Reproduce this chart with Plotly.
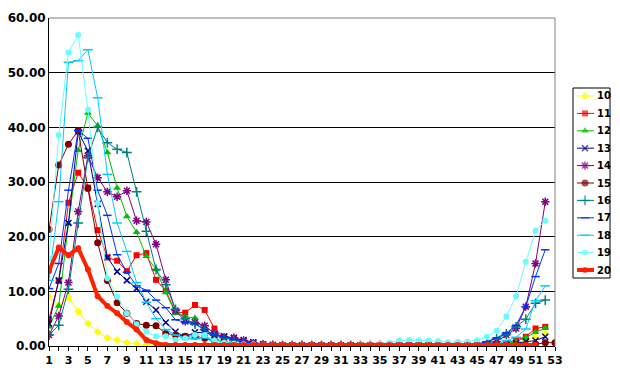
import plotly.graph_objects as go

weeks = list(range(1, 54))
tick_text = [str(w) if w % 2 == 1 else "" for w in weeks]

s10 = [9.0, 7.5, 8.9, 6.3, 4.1, 2.6, 1.5, 1.1, 0.6, 0.4,
       0.2, 0.1, 0.1, 0.1, 0.1, 0.1, 0.1, 0.0, 0.0, 0.0,
       0.0, 0.0, 0.0, 0.0, 0.0, 0.0, 0.0, 0.0, 0.0, 0.0,
       0.0, 0.0, 0.0, 0.0, 0.0, 0.0, 0.0, 0.0, 0.0, 0.0,
       0.0, 0.0, 0.0, 0.0, 0.1, 0.1, 0.2, 0.3, 0.6, 1.0,
       1.6, 2.3]
s11 = [4.9, 11.9, 26.2, 31.7, 29.0, 21.2, 16.2, 15.6, 13.7, 16.6,
       17.0, 12.1, 10.1, 6.2, 6.1, 7.5, 6.6, 3.2, 1.6, 1.4,
       0.9, 0.5, 0.3, 0.2, 0.1, 0.1, 0.1, 0.1, 0.1, 0.1,
       0.1, 0.1, 0.1, 0.1, 0.1, 0.1, 0.1, 0.1, 0.1, 0.1,
       0.1, 0.1, 0.1, 0.1, 0.1, 0.1, 0.2, 0.5, 1.1, 1.7,
       3.2, 3.5]
s12 = [3.5, 7.3, 22.4, 35.8, 42.6, 40.3, 35.4, 28.9, 23.7, 20.8,
       16.4, 14.0, 9.8, 6.0, 5.4, 5.1, 3.0, 1.4, 0.8, 0.5,
       0.3, 0.2, 0.1, 0.1, 0.1, 0.1, 0.1, 0.1, 0.1, 0.1,
       0.1, 0.1, 0.1, 0.1, 0.1, 0.1, 0.1, 0.1, 0.1, 0.1,
       0.1, 0.1, 0.1, 0.1, 0.1, 0.1, 0.2, 0.4, 0.8, 1.6,
       2.5, 3.3]
s13 = [4.1, 12.0, 22.5, 39.2, 35.7, 26.0, 16.2, 13.6, 12.0, 10.5,
       8.1, 6.6, 4.3, 2.6, 1.7, 2.5, 2.4, 2.0, 1.8, 1.5,
       1.1, 0.7, 0.3, 0.2, 0.1, 0.1, 0.1, 0.1, 0.1, 0.1,
       0.1, 0.1, 0.1, 0.1, 0.1, 0.1, 0.1, 0.1, 0.1, 0.1,
       0.1, 0.1, 0.1, 0.1, 0.1, 0.1, 0.1, 0.3, 0.5, 0.8,
       1.0, 1.7]
s14 = [2.0, 5.5, 11.6, 24.6, 34.8, 30.8, 28.2, 27.3, 28.4, 22.9,
       22.7, 18.6, 12.1, 6.5, 4.5, 4.3, 3.7, 2.3, 1.6, 1.5,
       1.0, 0.5, 0.3, 0.2, 0.1, 0.1, 0.1, 0.1, 0.1, 0.1,
       0.1, 0.1, 0.1, 0.1, 0.1, 0.1, 0.1, 0.1, 0.1, 0.1,
       0.1, 0.1, 0.1, 0.1, 0.1, 0.3, 0.8, 2.0, 3.2, 7.2,
       15.1, 26.4]
s15 = [21.3, 33.1, 36.9, 39.4, 28.8, 18.9, 12.0, 7.9, 6.0, 4.1,
       3.8, 3.7, 2.3, 2.0, 1.8, 1.8, 1.4, 1.0, 0.6, 0.4,
       0.2, 0.1, 0.1, 0.1, 0.1, 0.1, 0.1, 0.1, 0.1, 0.1,
       0.1, 0.1, 0.1, 0.1, 0.1, 0.1, 0.1, 0.1, 0.1, 0.1,
       0.1, 0.1, 0.1, 0.1, 0.1, 0.1, 0.1, 0.1, 0.2, 0.2,
       0.3, 0.6, 0.6]
s16 = [2.0, 3.8, 10.4, 22.5, 34.5, 40.0, 37.2, 36.0, 35.4, 28.2,
       21.0, 14.0, 11.2, 6.7, 5.0, 4.0, 3.0, 2.0, 1.5, 1.0,
       0.6, 0.3, 0.2, 0.1, 0.1, 0.1, 0.1, 0.1, 0.1, 0.1,
       0.1, 0.1, 0.1, 0.1, 0.1, 0.1, 0.1, 0.1, 0.1, 0.1,
       0.1, 0.1, 0.2, 0.2, 0.3, 0.8, 1.3, 2.2, 3.5, 4.9,
       7.8, 8.4]
s17 = [10.5, 15.1, 28.5, 39.4, 38.0, 28.5, 23.9, 16.7, 13.5, 11.0,
       10.2, 8.4, 7.0, 4.8, 4.3, 4.1, 3.0, 2.0, 1.6, 1.2,
       0.8, 0.5, 0.3, 0.2, 0.1, 0.1, 0.1, 0.1, 0.1, 0.1,
       0.1, 0.1, 0.1, 0.1, 0.1, 0.1, 0.1, 0.1, 0.1, 0.1,
       0.1, 0.1, 0.1, 0.2, 0.3, 0.8, 1.5, 2.4, 3.8, 7.2,
       12.7, 17.6]
s18 = [12.0, 26.4, 51.9, 52.2, 54.2, 45.4, 31.4, 22.5, 17.3, 11.6,
       8.0, 5.0, 3.0, 2.0, 1.5, 1.3, 1.5, 1.0, 0.6, 0.4,
       0.2, 0.1, 0.1, 0.1, 0.1, 0.1, 0.1, 0.1, 0.1, 0.1,
       0.1, 0.1, 0.1, 0.1, 0.1, 0.1, 0.1, 0.1, 0.1, 0.1,
       0.1, 0.1, 0.1, 0.1, 0.1, 0.2, 0.3, 1.0, 1.6, 3.1,
       8.3, 11.0]
s19 = [16.0, 38.6, 53.7, 56.9, 43.2, 26.1, 12.4, 9.0, 6.0, 4.0,
       2.6, 1.8, 1.8, 1.1, 1.4, 2.0, 2.0, 1.0, 0.6, 0.4,
       0.3, 0.3, 0.2, 0.2, 0.2, 0.2, 0.2, 0.2, 0.2, 0.2,
       0.2, 0.2, 0.3, 0.3, 0.4, 0.6, 1.0, 1.1, 1.0, 1.0,
       0.9, 0.7, 0.8, 0.8, 1.0, 1.7, 2.8, 5.4, 9.1, 15.4,
       21.1, 22.9]
s20 = [13.7, 18.0, 16.6, 17.9, 14.0, 9.1, 7.3, 6.0, 4.4, 3.0,
       1.1, 0.5, 0.2, 0.2, 0.2, 0.2, 0.2, 0.2, 0.2, 0.2,
       0.2, 0.2, 0.2, 0.2, 0.2, 0.2, 0.2, 0.2, 0.2, 0.2,
       0.2, 0.2, 0.2, 0.2, 0.2, 0.2, 0.2, 0.2, 0.2, 0.2,
       0.2, 0.2, 0.2, 0.2, 0.2, 0.2, 0.2, 0.2, 0.2, 0.2,
       0.2]

series_names = ["10", "11", "12", "13", "14", "15", "16", "17", "18", "19", "20"]
series_values = [s10, s11, s12, s13, s14, s15, s16, s17, s18, s19, s20]

styles = [
    dict(color="#FFFF00", symbol="diamond", size=6, width=1),
    dict(color="#FF0000", symbol="square", size=6, width=1),
    dict(color="#00C000", symbol="triangle-up", size=7, width=1),
    dict(color="#000099", symbol="x-thin", size=6, width=1),
    dict(color="#800080", symbol="asterisk", size=7, width=1),
    dict(color="#800000", symbol="circle", size=7, width=1),
    dict(color="#008080", symbol="cross-thin", size=7, width=1),
    dict(color="#0033FF", symbol="line-ew", size=6, width=1),
    dict(color="#00CCFF", symbol="line-ew", size=7, width=1),
    dict(color="#66FFFF", symbol="circle", size=6, width=1),
    dict(color="#FF2000", symbol="circle", size=6, width=4),
]

# The page body has an 8px default margin: size the figure to fit the window.
PAGE = 8
W, H = 620 - PAGE, 384 - PAGE
# Layout positions measured in window pixels, converted to figure pixels.
plot_l, plot_r, plot_t, plot_b = 49 - PAGE, 555 - PAGE, 18 - PAGE, 346 - PAGE
leg_l, leg_r, leg_t, leg_b = 573 - PAGE, 610 - PAGE, 88 - PAGE, 278 - PAGE
leg_row0, leg_step = 96 - PAGE, 17.4
sw_x0, sw_xm, sw_x1, txt_x = 577 - PAGE, 585 - PAGE, 594 - PAGE, 595 - PAGE

ML, MR, MT, MB = plot_l, 2, plot_t, H - plot_b
gw = W - ML - MR
gh = H - MT - MB

def fx(px):
    return (px - ML) / gw

def fy(py):
    return (H - MB - py) / gh

fig = go.Figure()
for name, vals, st in zip(series_names, series_values, styles):
    thin = st["symbol"] in ("x-thin", "asterisk", "cross-thin", "line-ew")
    mline = dict(color=st["color"], width=1.5 if thin else 0)
    fig.add_trace(go.Scatter(
        x=weeks[:len(vals)], y=vals, name=name, mode="lines+markers",
        line=dict(color=st["color"], width=st["width"]),
        marker=dict(symbol=st["symbol"], size=st["size"], color=st["color"], line=mline),
        showlegend=False,
    ))

# legend swatches on an auxiliary pixel-scaled axis
for i, (name, st) in enumerate(zip(series_names, styles)):
    thin = st["symbol"] in ("x-thin", "asterisk", "cross-thin", "line-ew")
    mline = dict(color=st["color"], width=1.5 if thin else 0)
    row = leg_row0 + leg_step * i
    fig.add_trace(go.Scatter(
        x=[sw_x0, sw_xm, sw_x1], y=[row, row, row], xaxis="x2", yaxis="y2",
        mode="lines+markers", showlegend=False, hoverinfo="skip",
        line=dict(color=st["color"], width=st["width"]),
        marker=dict(symbol=st["symbol"], size=[0, st["size"], 0], color=st["color"], line=mline),
    ))
    fig.add_annotation(x=txt_x, y=row, xref="x2", yref="y2", text="<b>" + name + "</b>",
                       showarrow=False, xanchor="left", yanchor="middle",
                       font=dict(family="DejaVu Sans", size=10, color="black"))

font_x = dict(family="DejaVu Sans", size=11, color="black", weight="bold")
font_y = dict(family="DejaVu Sans", size=12, color="black", weight="bold")

fig.update_layout(
    width=W, height=H,
    margin=dict(l=ML, r=MR, t=MT, b=MB, autoexpand=False),
    paper_bgcolor="white", plot_bgcolor="white",
    showlegend=False,
    font=font_x,
    xaxis=dict(domain=[0, fx(plot_r)],
               range=[1, 53], tickmode="array", tickvals=weeks, ticktext=tick_text,
               ticks="outside", ticklen=4, tickcolor="black", tickfont=font_x,
               showline=True, linecolor="black", linewidth=1, showgrid=False, zeroline=False),
    yaxis=dict(range=[0, 60], tickmode="array", tickvals=[0, 10, 20, 30, 40, 50, 60],
               tickformat=".2f", ticks="outside", ticklen=0, tickfont=font_y,
               showline=True, linecolor="black", linewidth=1,
               showgrid=True, gridcolor="black", gridwidth=1, zeroline=False),
    xaxis2=dict(domain=[fx(leg_l), fx(leg_r)], range=[leg_l, leg_r], anchor="y2",
                visible=False, fixedrange=True),
    yaxis2=dict(domain=[fy(leg_b), fy(leg_t)], range=[leg_b, leg_t], anchor="x2",
                visible=False, fixedrange=True),
)
fig.add_shape(type="line", xref="x domain", yref="y domain", x0=0, x1=1, y0=1, y1=1,
              line=dict(color="#808080", width=1))
fig.add_shape(type="line", xref="x domain", yref="y domain", x0=1, x1=1, y0=0, y1=1,
              line=dict(color="#808080", width=1))
fig.add_shape(type="rect", xref="x2 domain", yref="y2 domain", x0=0, x1=1, y0=0, y1=1,
              line=dict(color="black", width=1), fillcolor="rgba(0,0,0,0)", layer="below")

fig.write_html("out.html")
